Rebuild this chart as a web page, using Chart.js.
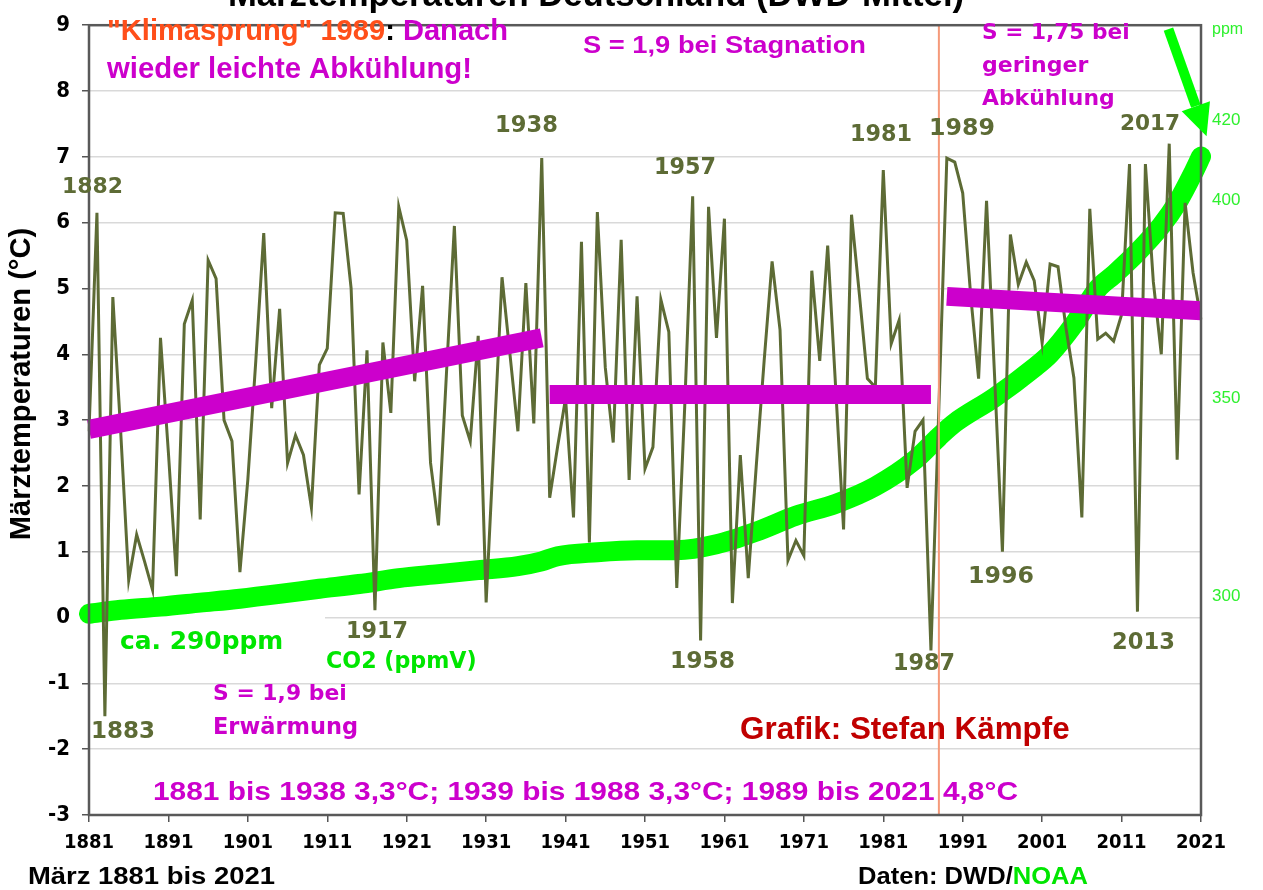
<!DOCTYPE html>
<html>
<head>
<meta charset="utf-8">
<script src="https://cdn.jsdelivr.net/npm/chart.js@4.4.0/dist/chart.umd.min.js"></script>
<style>html,body{margin:0;padding:0;background:#fff}</style>
</head>
<body>
<canvas id="chart" width="1263" height="890"></canvas>
<script>
// Märztemperaturen Deutschland (DWD), 1881-2021, with CO2 curve
const years = Array.from({ length: 141 }, (_, i) => String(1881 + i));

const marchTemps = [
  2.83, 6.15, -1.5, 4.87, 2.8, 0.57, 1.26, 0.85, 0.42, 4.25,
  2.5, 0.63, 4.46, 4.82, 1.49, 5.43, 5.15, 3.0, 2.68, 0.69,
  2.1, 3.9, 5.84, 3.18, 4.69, 2.35, 2.77, 2.47, 1.67, 3.84,
  4.09, 6.15, 6.14, 5.0, 1.87, 4.06, 0.11, 4.18, 3.11, 6.24,
  5.73, 3.59, 5.04, 2.35, 1.4, 3.7, 5.95, 3.07, 2.68, 4.28,
  0.23, 2.7, 5.17, 4.0, 2.83, 5.08, 2.95, 6.98, 1.82, 2.6,
  3.33, 1.52, 5.71, 1.14, 6.16, 3.8, 2.66, 5.74, 2.09, 4.88,
  2.26, 2.59, 4.83, 4.34, 0.45, 3.2, 6.4, -0.35, 6.24, 4.25,
  6.06, 0.22, 2.47, 0.6, 2.29, 3.9, 5.41, 4.37, 0.87, 1.17,
  0.94, 5.27, 3.9, 5.65, 3.5, 1.34, 6.12, 4.9, 3.63, 3.5,
  6.8, 4.16, 4.52, 1.97, 2.83, 3.0, -0.5, 3.2, 6.98, 6.92,
  6.45, 4.9, 3.63, 6.33, 3.7, 1.0, 5.82, 5.06, 5.4, 5.12,
  4.17, 5.37, 5.33, 4.4, 3.64, 1.52, 6.21, 4.23, 4.32, 4.2,
  4.6, 6.89, 0.09, 6.89, 5.1, 4.0, 7.2, 2.4, 6.3, 5.24,
  4.53
];

// CO2 curve (right axis)
const co2Years = ['1881', '1885', '1890', '1895', '1900', '1905', '1910', '1915', '1920', '1925',
  '1930', '1935', '1938', '1940', '1945', '1950', '1955', '1960', '1965', '1970',
  '1975', '1980', '1985', '1988', '1990', '1995', '2000', '2002', '2005', '2008',
  '2010', '2013', '2016', '2018', '2020', '2021'];
const co2Values = [295.7, 296.7, 297.5, 298.5, 299.5, 300.7, 302.0, 303.2, 304.7, 305.7,
  306.7, 307.7, 308.9, 310.2, 311.2, 311.7, 311.7, 313.2, 316.4, 320.4,
  323.4, 327.8, 334.5, 340.3, 343.8, 350.2, 357.7, 361.2, 368.6, 377.6,
  381.1, 386.8, 393.5, 399.2, 406.7, 410.9];

// trend segments
const trendYears1 = ['1881', '1938'];
const trendValues1 = [2.86, 4.25];
const trendYears2 = ['1939', '1987'];
const trendValues2 = [3.39, 3.39];
const trendYears3 = ['1989', '2021'];
const trendValues3 = [4.88, 4.66];

const breakYear = '1988';
const ppmTicks = [300, 350, 400, 420];

const MAG = '#cc00cc';
const OLIVE = '#5d6b35';
const GREEN = '#00e600';
const CONDENSED = '"Liberation Sans Narrow", "DejaVu Sans Condensed", sans-serif';
const WIDE = '"DejaVu Sans", Verdana, sans-serif';
const ARIAL = '"Liberation Sans", Arial, sans-serif';

function pts(xs, ys) {
  return xs.map((x, i) => ({ x: x, y: ys[i] }));
}

function fitFont(ctx, text, width, weight, family) {
  ctx.font = weight + ' 100px ' + family;
  const size = 100 * width / ctx.measureText(text).width;
  return weight + ' ' + size.toFixed(1) + 'px ' + family;
}

// draws coloured pieces of one line; with n.h the font height is fixed and the
// text is squeezed sideways to the given width (the original uses a narrow face)
function drawNote(ctx, n) {
  const full = n.runs.map(r => r[0]).join('');
  ctx.save();
  ctx.textAlign = 'left';
  ctx.textBaseline = 'middle';
  let sx = 1;
  if (n.h) {
    ctx.font = 'bold ' + n.h + 'px ' + ARIAL;
    sx = n.w / ctx.measureText(full).width;
  } else {
    ctx.font = fitFont(ctx, full, n.w, 'bold', n.f);
  }
  ctx.translate(n.x, n.y);
  ctx.scale(sx, 1);
  let cx = 0;
  n.runs.forEach(([t, c]) => {
    ctx.fillStyle = c;
    ctx.fillText(t, cx, 0);
    cx += ctx.measureText(t).width;
  });
  ctx.restore();
}

const notes = [
  { runs: [['"Klimasprung" 1989', '#ff4f1a'], [': ', '#000'], ['Danach', MAG]], x: 107, y: 32, w: 401, h: 29 },
  { runs: [['wieder leichte Abkühlung!', MAG]], x: 107, y: 70, w: 365, h: 29 },
  { runs: [['S = 1,9 bei Stagnation', MAG]], x: 583, y: 46, w: 283, h: 24 },
  { runs: [['S = 1,75 bei', MAG]], x: 982, y: 33, w: 148, f: WIDE },
  { runs: [['geringer', MAG]], x: 982, y: 66, w: 106, f: WIDE },
  { runs: [['Abkühlung', MAG]], x: 982, y: 99, w: 133, f: WIDE },
  { runs: [['1882', OLIVE]], x: 62, y: 187, w: 61, f: WIDE },
  { runs: [['1883', OLIVE]], x: 91, y: 732, w: 64, f: WIDE },
  { runs: [['1917', OLIVE]], x: 346, y: 632, w: 62, f: WIDE },
  { runs: [['1938', OLIVE]], x: 495, y: 126, w: 63, f: WIDE },
  { runs: [['1957', OLIVE]], x: 654, y: 168, w: 62, f: WIDE },
  { runs: [['1958', OLIVE]], x: 670, y: 662, w: 65, f: WIDE },
  { runs: [['1981', OLIVE]], x: 850, y: 135, w: 62, f: WIDE },
  { runs: [['1989', OLIVE]], x: 929, y: 129, w: 66, f: WIDE },
  { runs: [['1987', OLIVE]], x: 893, y: 664, w: 62, f: WIDE },
  { runs: [['1996', OLIVE]], x: 968, y: 577, w: 66, f: WIDE },
  { runs: [['2013', OLIVE]], x: 1112, y: 643, w: 63, f: WIDE },
  { runs: [['2017', OLIVE]], x: 1120, y: 124, w: 60, f: WIDE },
  { runs: [['ca. 290ppm', GREEN]], x: 120, y: 643, w: 163, f: WIDE },
  { runs: [['CO2 (ppmV)', GREEN]], x: 326, y: 662, w: 151, f: WIDE },
  { runs: [['S = 1,9 bei', MAG]], x: 213, y: 694, w: 134, f: WIDE },
  { runs: [['Erwärmung', MAG]], x: 213, y: 728, w: 145, f: WIDE },
  { runs: [['Grafik: Stefan Kämpfe', '#c00000']], x: 740, y: 730, w: 330, f: ARIAL },
  { runs: [['1881 bis 1938 3,3°C; 1939 bis 1988 3,3°C; 1989 bis 2021 4,8°C', MAG]], x: 153, y: 793, w: 865, h: 26 },
  { runs: [['März 1881 bis 2021', '#000']], x: 28, y: 877, w: 247, h: 24 },
  { runs: [['Daten: DWD/', '#000'], ['NOAA', GREEN]], x: 858, y: 877, w: 230, h: 24 }
];

const decorPlugin = {
  id: 'decor',
  beforeDatasetsDraw(chart) {
    // white text box behind "ca. 290ppm" hides the zero grid line
    const ctx = chart.ctx;
    ctx.save();
    ctx.fillStyle = '#fff';
    ctx.fillRect(chart.chartArea.left + 2, 613, 234, 54);
    ctx.restore();
  },
  afterDatasetsDraw(chart) {
    const ctx = chart.ctx;
    const a = chart.chartArea;
    const xs = chart.scales.x, y2 = chart.scales.y2;
    ctx.save();
    // frame
    ctx.strokeStyle = '#595959';
    ctx.lineWidth = 2.5;
    ctx.strokeRect(a.left, a.top, a.right - a.left, a.bottom - a.top);
    // CO2 arrow
    const tx = xs.getPixelForValue(135.9), ty = y2.getPixelForValue(443);
    const hx = xs.getPixelForValue(140.7), hy = y2.getPixelForValue(416);
    const ang = Math.atan2(hy - ty, hx - tx);
    const hl = 32, hw = 15;
    const bx = hx - hl * Math.cos(ang), by = hy - hl * Math.sin(ang);
    ctx.strokeStyle = '#00ff00';
    ctx.fillStyle = '#00ff00';
    ctx.lineWidth = 10;
    ctx.beginPath();
    ctx.moveTo(tx, ty);
    ctx.lineTo(bx, by);
    ctx.stroke();
    ctx.beginPath();
    ctx.moveTo(hx, hy);
    ctx.lineTo(bx + hw * Math.sin(ang), by - hw * Math.cos(ang));
    ctx.lineTo(bx - hw * Math.sin(ang), by + hw * Math.cos(ang));
    ctx.closePath();
    ctx.fill();
    ctx.restore();
  },
  afterDraw(chart) {
    const ctx = chart.ctx;
    ctx.save();
    // title, cut off at the top edge as in the original
    ctx.font = fitFont(ctx, 'Märztemperaturen Deutschland (DWD-Mittel)', 737, 'bold', ARIAL);
    ctx.fillStyle = '#000';
    ctx.textAlign = 'center';
    ctx.textBaseline = 'alphabetic';
    ctx.fillText('Märztemperaturen Deutschland (DWD-Mittel)', 596, 6);
    // y axis title
    ctx.save();
    ctx.translate(22, 384);
    ctx.rotate(-Math.PI / 2);
    ctx.font = fitFont(ctx, 'Märztemperaturen (°C)', 312, 'bold', ARIAL);
    ctx.textBaseline = 'middle';
    ctx.fillText('Märztemperaturen (°C)', 0, 0);
    ctx.restore();
    // ppm unit
    ctx.font = '16px ' + ARIAL;
    ctx.fillStyle = '#2ef02e';
    ctx.textAlign = 'left';
    ctx.textBaseline = 'middle';
    ctx.fillText('ppm', 1212, 30);
    ctx.restore();
    notes.forEach(n => drawNote(ctx, n));
  }
};

new Chart(document.getElementById('chart'), {
  type: 'line',
  data: {
    labels: years,
    datasets: [
      { label: 'Bruch', data: [{ x: breakYear, y: -3 }, { x: breakYear, y: 9 }],
        borderColor: '#f59a7a', borderWidth: 2, pointRadius: 0, order: 0 },
      { label: 'S 1881-1938', data: pts(trendYears1, trendValues1),
        borderColor: MAG, borderWidth: 19, borderCapStyle: 'butt', pointRadius: 0, order: 1 },
      { label: 'S 1939-1988', data: pts(trendYears2, trendValues2),
        borderColor: MAG, borderWidth: 19, borderCapStyle: 'butt', pointRadius: 0, order: 1 },
      { label: 'S 1989-2021', data: pts(trendYears3, trendValues3),
        borderColor: MAG, borderWidth: 19, borderCapStyle: 'butt', pointRadius: 0, order: 1 },
      { label: 'Märztemperaturen', data: marchTemps,
        borderColor: OLIVE, borderWidth: 3, pointRadius: 0, tension: 0, order: 2 },
      { label: 'CO2 (ppmV)', data: pts(co2Years, co2Values), yAxisID: 'y2',
        borderColor: '#00ff00', borderWidth: 20, borderCapStyle: 'round', borderJoinStyle: 'round',
        pointRadius: 0, cubicInterpolationMode: 'monotone', order: 3 }
    ]
  },
  options: {
    responsive: false,
    animation: false,
    layout: { padding: { top: 15, left: 0, right: 0, bottom: 0 } },
    plugins: { legend: { display: false }, tooltip: { enabled: false } },
    scales: {
      x: {
        type: 'category',
        offset: false,
        afterFit(s) { s.height = 75; },
        afterBuildTicks(s) { s.ticks = s.ticks.filter(t => t.value % 10 === 0); },
        ticks: { autoSkip: false, maxRotation: 0, minRotation: 0, padding: 9,
          color: '#000', font: { family: CONDENSED, size: 20, weight: 'bold' } },
        grid: { drawOnChartArea: false, tickLength: 7, tickColor: '#555', lineWidth: 1.5 },
        border: { display: false }
      },
      y: {
        min: -3,
        max: 9,
        afterFit(s) { s.width = 89; },
        ticks: { stepSize: 1, padding: 12, color: '#000',
          font: { family: CONDENSED, size: 22, weight: 'bold' } },
        grid: { color: '#d9d9d9', lineWidth: 1.5, tickColor: '#555', tickLength: 7 },
        border: { display: false }
      },
      y2: {
        position: 'right',
        min: 245,
        max: 444,
        afterFit(s) { s.width = 62; },
        afterBuildTicks(s) { s.ticks = ppmTicks.map(v => ({ value: v })); },
        ticks: { padding: 11, color: '#2ef02e', font: { family: ARIAL, size: 17 } },
        grid: { display: false, drawTicks: false },
        border: { display: false }
      }
    }
  },
  plugins: [decorPlugin]
});
</script>
</body>
</html>
